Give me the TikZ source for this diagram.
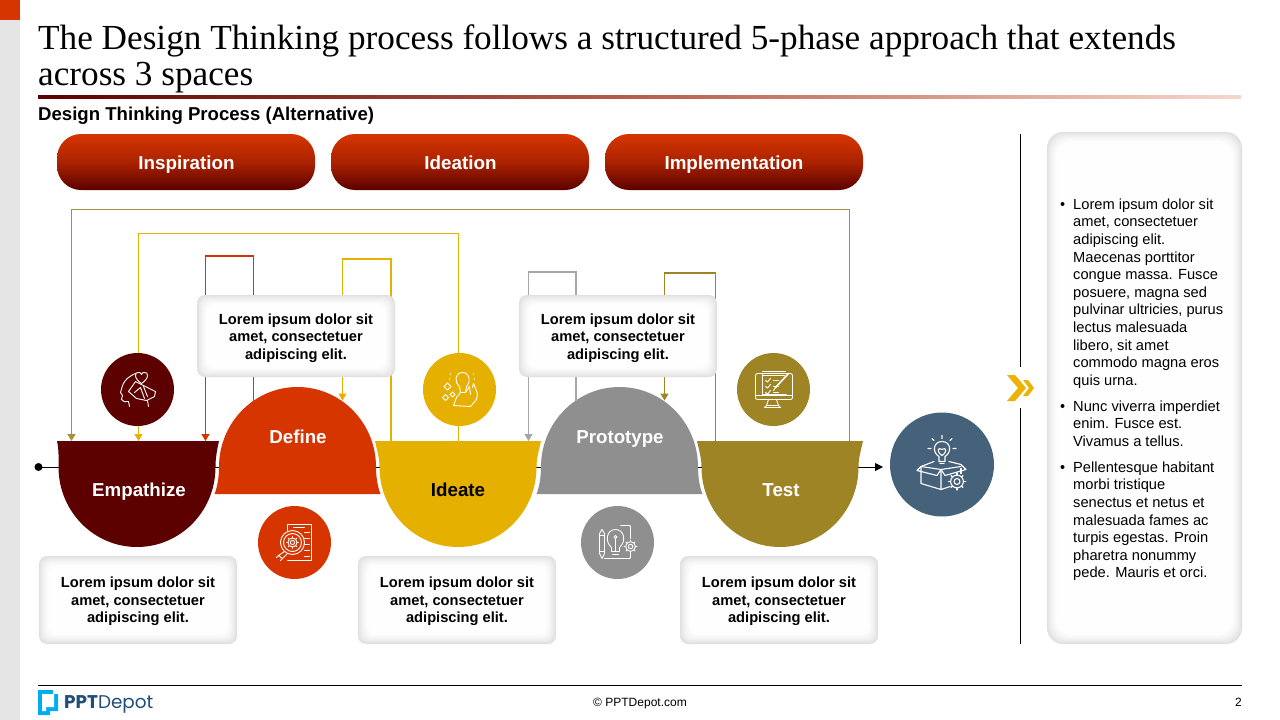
\documentclass[tikz,border=0pt]{standalone}
\usepackage{fontspec}
\setmainfont{Liberation Sans}
\newfontfamily\titlefont{Liberation Serif}
\newfontfamily\logofont{Poppins}
\usetikzlibrary{arrows.meta, calc}

\definecolor{phasemaroon}{HTML}{5C0000}
\definecolor{phaseorange}{HTML}{D63500}
\definecolor{phaseyellow}{HTML}{E6B000}
\definecolor{phasegray}{HTML}{8F8F8F}
\definecolor{phasetan}{HTML}{9E8424}
\definecolor{slateblue}{HTML}{46627A}
\definecolor{logoblue}{HTML}{1F4E79}
\definecolor{logocyan}{HTML}{00AEEF}
\definecolor{chevronyellow}{HTML}{EDB200}

\newcommand{\bowlpath}[3]{({#1-#2},441) -- ({#1+#3},441) .. controls ({#1+#3-2},450) and ({#1+78.5},458) .. ({#1+78.5},467)
	arc[start angle=0, end angle=180, x radius=78.5, y radius=80] .. controls ({#1-78.5},458) and ({#1-#2+2},450) .. cycle}
\newcommand{\domepath}[1]{({#1-83},494) .. controls ({#1-80.5},488) and ({#1-78.5},478) .. ({#1-78.5},467)
	arc[start angle=180, end angle=360, x radius=78.5, y radius=80] .. controls ({#1+78.5},478) and ({#1+80.5},488) .. ({#1+83},494) -- cycle}
\newcommand{\softcard}[5]{
	\foreach \i in {0,...,10} {
		\pgfmathsetmacro{\shade}{12*(1-\i/11)^1.6}
		\fill[black!\shade, rounded corners=#5pt] ({#1+\i},{#2+\i}) rectangle ({#3-\i},{#4-\i});
	}
}
\newcommand{\gearicon}[3]{
	\draw (#1,#2) circle ({#3*0.75});
	\draw (#1,#2) circle ({#3*0.35});
	\foreach \a in {0,45,...,315}
		\draw ($(#1,#2)+(\a:{#3*0.75})$) -- ($(#1,#2)+(\a:#3)$);
}

\tikzset{
	link/.style={line width=1.2pt, -{Triangle[length=7pt,width=8pt]}},
	pill/.style={rounded corners=24pt, top color=phaseorange, bottom color=phasemaroon, middle color=phaseorange!65!phasemaroon},
	pilltext/.style={text=white, anchor=base, inner sep=0pt, font=\fontsize{18.8}{24}\selectfont\bfseries},
	phasetext/.style={text=white, anchor=base, inner sep=0pt, font=\fontsize{18.7}{22}\selectfont\bfseries},
	cardtext/.style={align=center, inner sep=0pt, font=\fontsize{14.67}{17.6}\selectfont\bfseries},
	bullettext/.style={align=left, anchor=north west, inner sep=0pt, font=\fontsize{14.67}{17.6}\selectfont},
	icon/.style={white, line width=0.9pt, line join=round, line cap=round},
	badge/.style={circle, inner sep=0pt, minimum size=73pt}
}

\begin{document}
\begin{tikzpicture}[x=1pt, y=-1pt]
	\useasboundingbox (0,0) rectangle (1280,720);
	\fill[black!10] (0,0) rectangle (20,720);
	\fill[phaseorange] (0,0) rectangle (20,20);

	\node[anchor=north west, inner sep=0pt, align=left, font=\fontsize{35.2}{36}\selectfont\titlefont] (title) at (38,24.5)
		{The Design Thinking process follows a structured 5-phase approach that extends\\across 3 spaces};
	\shade[left color=phasemaroon, right color=phaseorange!20, middle color=phasemaroon!50!phaseorange!70] (38,95) rectangle (1241,98.5);
	\node[anchor=west, inner sep=0pt, font=\fontsize{18.6}{22}\selectfont\bfseries] (subtitle) at (38,116) {Design Thinking Process (Alternative)};

	\shade[pill] (57,134) rectangle (315,190);
	\shade[pill] (331,134) rectangle (589,190);
	\shade[pill] (605,134) rectangle (863,190);
	\node[pilltext] (inspiration) at (186.5,169) {Inspiration};
	\node[pilltext] (ideation) at (460.5,169) {Ideation};
	\node[pilltext] (implementation) at (734,169) {Implementation};

	\foreach \cx/\hl/\hr in {137/80/82,458/83/83,780/83/83}
		\draw[white, line width=4pt] \bowlpath{\cx}{\hl}{\hr};
	\foreach \cx in {297.5,619.5}
		\draw[white, line width=4pt] \domepath{\cx};

	\coordinate (lineStart) at (38.5,467);
	\coordinate (lineEnd) at (883,467);
	\fill (lineStart) circle (4);
	\draw[line width=1pt, -{Triangle[length=8pt,width=8pt]}] (lineStart) -- (lineEnd);

	\foreach \cx/\hl/\hr/\col in {137/80/82/phasemaroon,458/83/83/phaseyellow,780/83/83/phasetan}
		\fill[\col] \bowlpath{\cx}{\hl}{\hr};
	\foreach \cx/\col in {297.5/phaseorange,619.5/phasegray}
		\fill[\col] \domepath{\cx};

	\node[phasetext] (empathize) at (139,496.5) {Empathize};
	\node[phasetext] (define) at (298,443.5) {Define};
	\node[phasetext, text=black] (ideate) at (458,496.5) {Ideate};
	\node[phasetext] (prototype) at (620,443.5) {Prototype};
	\node[phasetext] (test) at (781,496.5) {Test};

	\coordinate (testTop) at (849.5,441);
	\coordinate (empathizeA) at (71.5,441);
	\coordinate (ideateTop) at (458.5,441);
	\coordinate (empathizeB) at (138.5,441);
	\coordinate (defineOut) at (253.5,400.5);
	\coordinate (empathizeC) at (205.5,441);
	\coordinate (ideateLeft) at (391,441);
	\coordinate (defineIn) at (342.5,400.5);
	\coordinate (prototypeOut) at (576,400.5);
	\coordinate (ideateIn) at (528.5,441);
	\coordinate (testLeft) at (715.5,441);
	\coordinate (prototypeIn) at (664.5,400.5);

	\draw[link, phasetan!90!white] (testTop) -- ++(0,-231.5) -| (empathizeA);
	\draw[link, phaseyellow] (ideateTop) -- ++(0,-207.5) -| (empathizeB);
	\draw[link, phaseorange] (defineOut) -- ++(0,-144.5) -| (empathizeC);
	\draw[link, phaseyellow] (ideateLeft) -- ++(0,-182) -| (defineIn);
	\draw[link, black!35] (prototypeOut) -- ++(0,-128.5) -| (ideateIn);
	\draw[link, phasetan] (testLeft) -- ++(0,-168) -| (prototypeIn);

	\softcard{197}{295}{395}{377}{8}
	\softcard{519}{295}{717}{377}{8}
	\softcard{39}{556}{237}{644}{8}
	\softcard{358}{556}{556}{644}{8}
	\softcard{680}{556}{878}{644}{8}
	\node[cardtext] (cardDefine) at (296,338) {Lorem ipsum dolor sit\\amet, consectetuer\\adipiscing elit.};
	\node[cardtext] (cardPrototype) at (618,338) {Lorem ipsum dolor sit\\amet, consectetuer\\adipiscing elit.};
	\node[cardtext] (cardEmpathize) at (138,601.5) {Lorem ipsum dolor sit\\amet, consectetuer\\adipiscing elit.};
	\node[cardtext] (cardIdeate) at (457,601.5) {Lorem ipsum dolor sit\\amet, consectetuer\\adipiscing elit.};
	\node[cardtext] (cardTest) at (779,601.5) {Lorem ipsum dolor sit\\amet, consectetuer\\adipiscing elit.};

	\node[badge, fill=phasemaroon] (iconEmpathize) at (137.5,389.5) {};
	\node[badge, fill=phaseyellow] (iconIdeate) at (459.5,389.5) {};
	\node[badge, fill=phasetan] (iconTest) at (773.5,389.5) {};
	\node[badge, fill=phaseorange] (iconDefine) at (294.5,542.5) {};
	\node[badge, fill=phasegray] (iconPrototype) at (617.5,542.5) {};
	\node[badge, fill=slateblue, minimum size=104pt] (iconOutcome) at (942,464.5) {};

	\begin{scope}[shift={(iconEmpathize.center)}, icon]
		\draw (-8,17) -- (-9,12) .. controls (-12,13) and (-15,12) .. (-16,10) -- (-15,6) -- (-17,3) .. controls (-15,-2) and (-16,-10) .. (-2,-16);
		\draw (4,-6) .. controls (-4,-11) and (-3,-18) .. (1,-17) .. controls (3,-17) .. (4,-15) .. controls (5,-17) .. (7,-17) .. controls (11,-18) and (12,-11) .. (4,-6);
		\draw (-9,2) -- (-2,-8) -- (18,2) -- (17,7) -- (9,11) -- (-1,9) -- cycle;
		\draw (-3,3) -- (3,-2) -- (7,9);
		\draw (6,-3) -- (10,7);
		\draw (10,11) -- (11,17);
	\end{scope}
	\begin{scope}[shift={(iconIdeate.center)}, icon]
		\draw (0,-3) .. controls (-6,-8) and (-4,-17) .. (3,-17) .. controls (10,-17) and (12,-8) .. (7,-3) -- (6,3) -- (1,3) -- cycle;
		\draw (-6,16) -- (-3,8) -- (1,3);
		\draw (6,3) -- (10,-3) -- (11,5);
		\draw (13,-2) -- (14,-6) -- (18,4) -- (17,10) -- (11,17) -- (-6,16);
		\foreach \dx/\dy/\s in {-12/-3/3.5,-7/5/2.5,-14/8/3}
			\draw (\dx,{\dy-\s}) -- ({\dx+\s},\dy) -- (\dx,{\dy+\s}) -- ({\dx-\s},\dy) -- cycle;
		\draw (-9,-16) -- (-9,-15) (-10,-11) -- (-10,-10) (14,-16) -- (14,-15) (15,-11) -- (15,-10);
	\end{scope}
	\begin{scope}[shift={(iconTest.center)}, icon]
		\draw[rounded corners=2pt] (-18,-16) rectangle (19,10);
		\draw (-11,-16) -- (-11,5) -- (13,5);
		\draw (-11,-18) -- (12,-18) (-11,-14) -- (11,-14);
		\draw (-7,16) -- (-5,10) (5,16) -- (3,10) (-9,18) -- (7,18) -- (5,16) -- (-7,16) -- cycle;
		\draw (-18,6) -- (19,6);
		\foreach \yy in {-9,-3,3}
			\draw (-8,\yy) -- (-6,{\yy+1.5}) -- (-3,{\yy-2}) (0,\yy) -- (5,\yy);
		\draw[line width=1.6pt] (2,-2) -- (15,-16);
		\draw (0,1) -- (2,-2);
	\end{scope}
	\begin{scope}[shift={(iconDefine.center)}, icon]
		\draw (-7,-12) -- (-7,-18) -- (17,-18) -- (17,18) -- (-7,18);
		\draw (-1,-15) -- (10,-15);
		\foreach \yy in {-10,-4,2,8,14}
			\draw (10,\yy) -- (15,\yy);
		\draw (-2,0) circle (12);
		\draw (-2,0) circle (9);
		\gearicon{-2}{0}{6}
		\draw (-10,9) -- (-16,13) -- (-12,16) -- (-7,11);
		\draw (-18,15) -- (-16,13) (-14,18) -- (-12,16);
	\end{scope}
	\begin{scope}[shift={(iconPrototype.center)}, icon]
		\draw (-18,-9) -- (-18,11) -- (-15.5,16) -- (-13,11) -- (-13,-9) -- (-15.5,-13) -- cycle;
		\draw (-18,-7) -- (-13,-7) (-18,9) -- (-13,9);
		\draw (-6,5) .. controls (-13,-1) and (-11,-13) .. (-2,-13) .. controls (7,-13) and (9,-1) .. (2,5) -- (2,9) -- (-6,9) -- cycle;
		\draw (-2,9) -- (-2,-4);
		\draw (-2,-5.5) circle (1.5);
		\draw (-5,12) -- (1,12);
		\draw (3,-17) -- (11,-17) .. controls (13,-17) .. (13,-15) -- (13,-4);
		\draw (13,10) -- (13,14) .. controls (13,16) .. (11,16) -- (-13,16);
		\gearicon{13}{4}{6.5}
	\end{scope}
	\begin{scope}[shift={(iconOutcome.center)}, icon, line width=1.1pt]
		\draw (-3,-8) .. controls (-10,-12) and (-9,-23) .. (0,-23) .. controls (9,-23) and (10,-12) .. (3,-8) -- (3,-3) -- (-3,-3) -- cycle;
		\draw (-2,-1) -- (2,-1);
		\draw (0,-9) .. controls (-6,-13) and (-4,-18) .. (0,-15) .. controls (4,-18) and (6,-13) .. (0,-9);
		\draw (0,-26) -- (0,-29) (-8,-24) -- (-10,-26) (8,-24) -- (10,-26) (-11,-16) -- (-14,-16) (11,-16) -- (14,-16);
		\draw (-21,2) -- (-21,19) -- (-1,25) -- (-1,5) -- (-21,2);
		\draw (-1,25) -- (8,22);
		\draw (19,4) -- (19,9);
		\draw (-1,5) -- (19,2);
		\draw (-21,2) -- (-25,6) -- (-5,11) -- (-1,5) -- (3,11) -- (24,5) -- (19,0) -- (7,-3);
		\draw (-21,2) -- (-8,-3);
		\gearicon{15}{17}{8.5}
	\end{scope}

	\coordinate (dividerTop) at (1020,134);
	\coordinate (dividerMidA) at (1020,367);
	\coordinate (dividerMidB) at (1020,408);
	\coordinate (dividerEnd) at (1020,644);
	\draw[line width=1pt] (dividerTop) -- (dividerMidA);
	\draw[line width=1pt] (dividerMidB) -- (dividerEnd);
	\fill[chevronyellow] (1007,375) -- (1015,375) -- (1026,388) -- (1015,401) -- (1007,401) -- (1018,388) -- cycle;
	\fill[chevronyellow] (1023,380) -- (1028,380) -- (1034,388) -- (1028,396) -- (1023,396) -- (1029,388) -- cycle;

	\softcard{1047}{132}{1242}{644}{16}
	\foreach \yy in {204,406,467}
		\fill (1062.5,\yy) circle (2);
	\node[bullettext] (bulletA) at (1073,198.5) {Lorem ipsum dolor sit\\amet, consectetuer\\adipiscing elit.\\Maecenas porttitor\\congue massa. Fusce\\posuere, magna sed\\pulvinar ultricies, purus\\lectus malesuada\\libero, sit amet\\commodo magna eros\\quis urna.};
	\node[bullettext] (bulletB) at (1073,400.5) {Nunc viverra imperdiet\\enim. Fusce est.\\Vivamus a tellus.};
	\node[bullettext] (bulletC) at (1073,461.5) {Pellentesque habitant\\morbi tristique\\senectus et netus et\\malesuada fames ac\\turpis egestas. Proin\\pharetra nonummy\\pede. Mauris et orci.};

	\draw[line width=1pt] (38,685.5) -- (1242,685.5);
	\fill[logocyan] (38,690) -- (53,690) -- (53,694) -- (58,694) -- (58,711) -- (50,711) -- (50,715) -- (38,715) -- cycle;
	\fill[white] (42,694) -- (54,694) -- (54,707) -- (46,707) -- (46,711) -- (42,711) -- cycle;
	\node[anchor=west, inner sep=0pt, font=\fontsize{18.4}{20}\selectfont\logofont, text=logoblue] (logo) at (64,704) {\textbf{PPT}Depot};
	\node[font=\fontsize{12}{14}\selectfont] (copyright) at (640,704) {© PPTDepot.com};
	\node[font=\fontsize{12}{14}\selectfont] (pagenum) at (1238.5,702.5) {2};
\end{tikzpicture}
\end{document}
